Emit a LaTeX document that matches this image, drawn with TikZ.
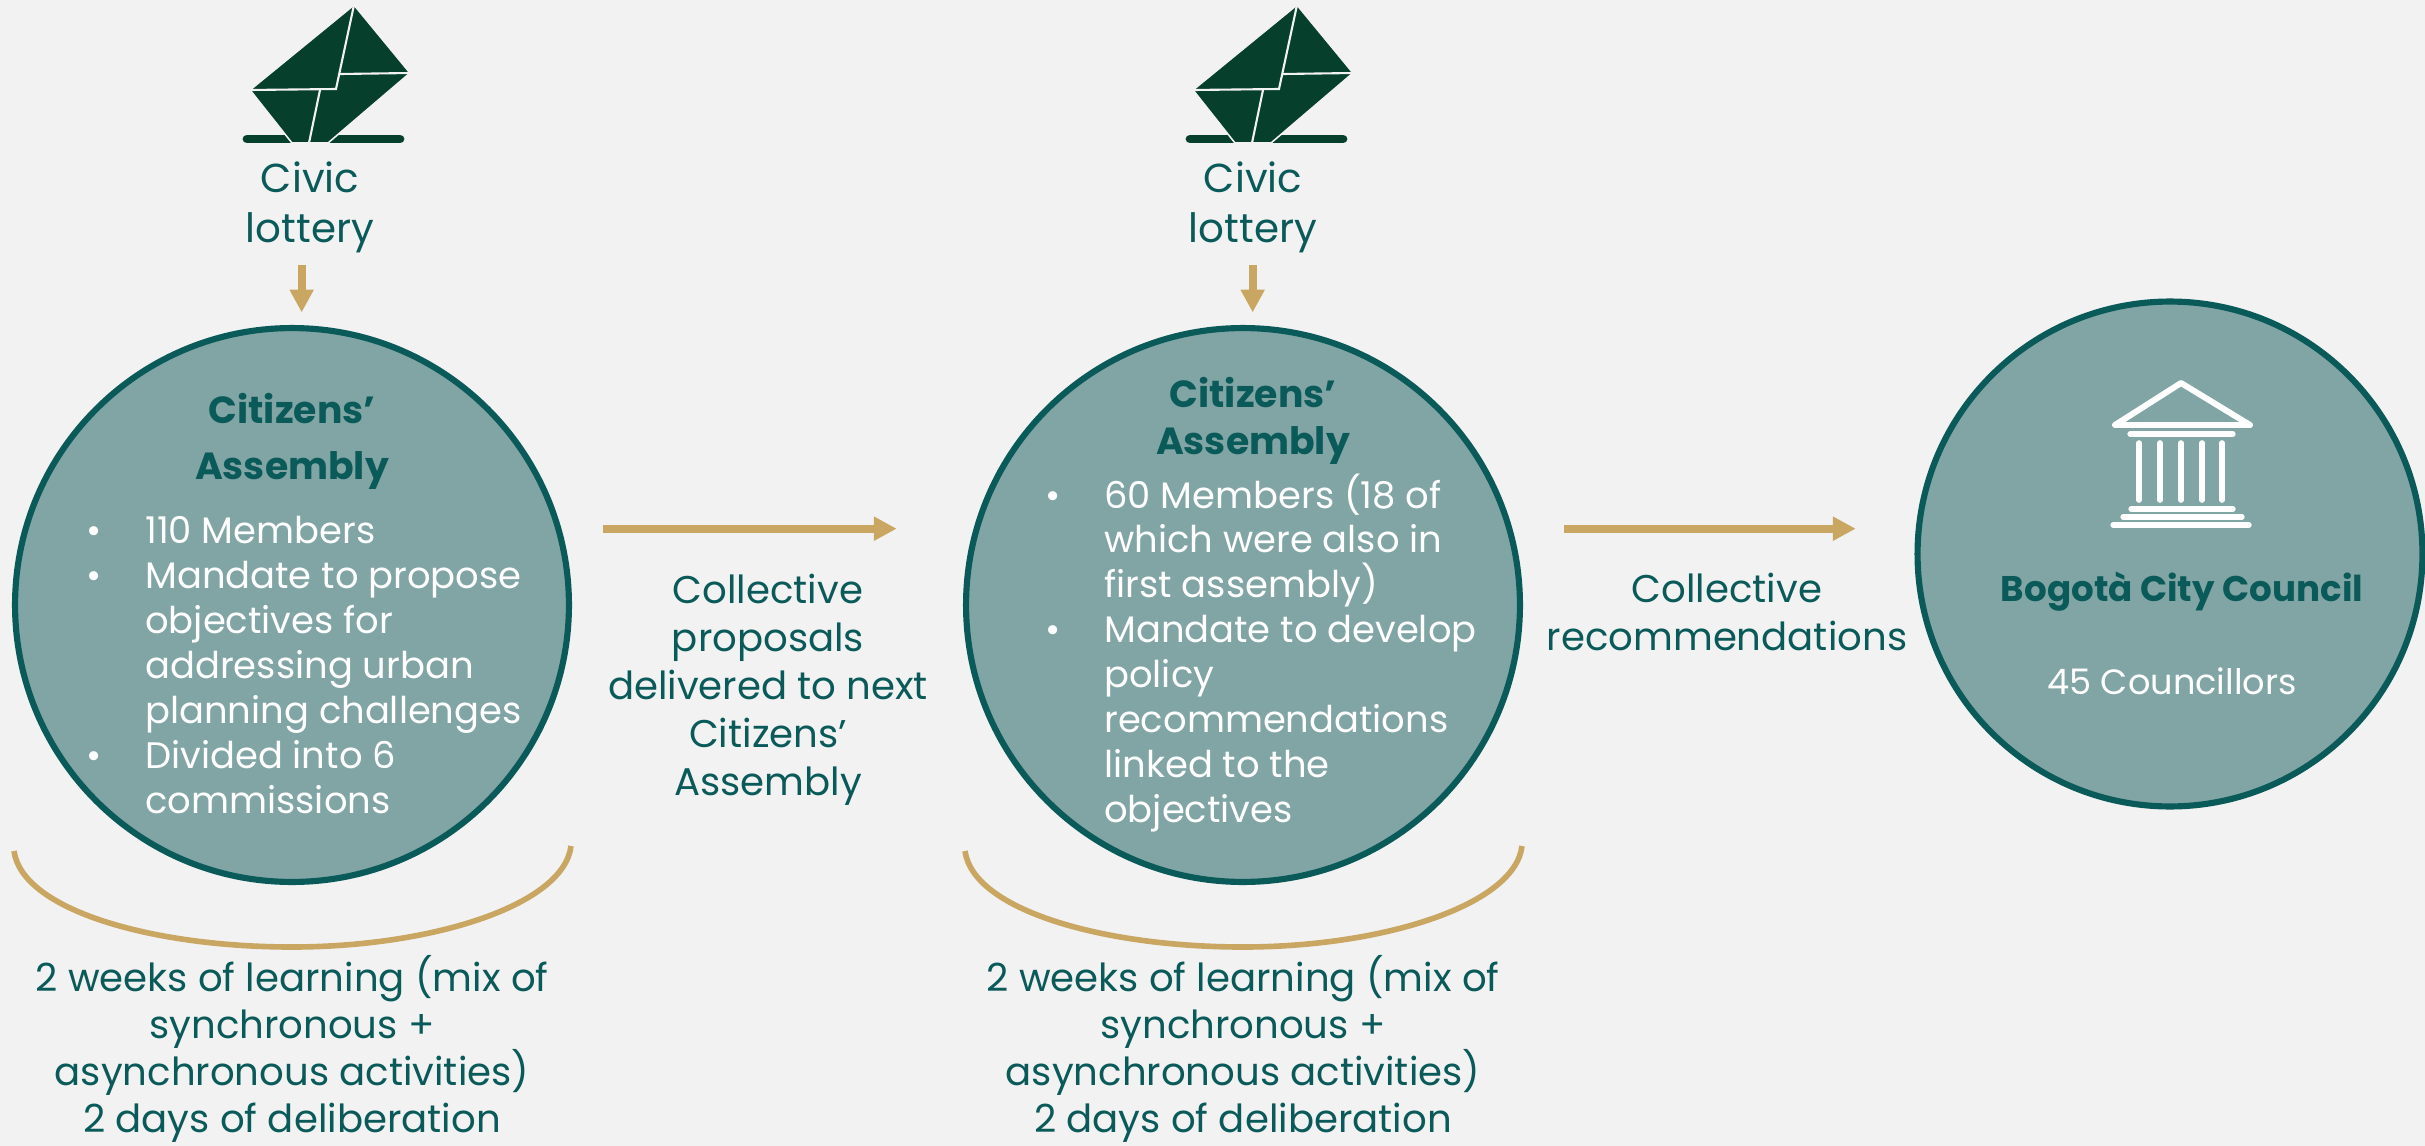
\documentclass[tikz,border=0pt]{standalone}
\usepackage{fontspec}
\setmainfont{Poppins}
\usetikzlibrary{arrows.meta}

\definecolor{pagegrey}{HTML}{F2F2F2}
\definecolor{tealdark}{HTML}{0B5A5A}
\definecolor{tealfill}{HTML}{81A5A5}
\definecolor{goldline}{HTML}{C9A762}
\definecolor{envgreen}{HTML}{063F2B}

\newcommand{\itemdot}{\llap{\textbullet\hspace{25pt}}}

\tikzset{
	bodytext/.style={font=\fontsize{22}{27.3}\selectfont,align=center,text=tealdark,inner sep=0},
	listtext/.style={font=\fontsize{21}{25.6}\selectfont,align=left,text=white,inner sep=0,anchor=west},
	headtext/.style={font=\fontsize{21.5}{#1}\selectfont\bfseries,align=center,text=tealdark,inner sep=0},
	bigcircle/.style={circle,draw=tealdark,fill=tealfill,line width=3.5pt,inner sep=0,outer sep=0},
	flowarrow/.style={draw=goldline,line width=4.4pt,-{Triangle[length=13pt,width=13pt]}},
	bracketline/.style={draw=goldline,line width=3.2pt},
	iconline/.style={draw=white,line width=3pt,line cap=round}
}

\begin{document}
\begin{tikzpicture}[x=0.02cm,y=-0.02cm]
	\fill[pagegrey] (0,0) rectangle (2425,1146);
	\useasboundingbox (0,0) rectangle (2425,1146);

	% circles
	\node[bigcircle,minimum size=11.08cm] (assembly1) at (292,605) {};
	\node[bigcircle,minimum size=11.08cm] (assembly2) at (1243,605) {};
	\node[bigcircle,minimum size=10.1cm] (council) at (2170,554) {};

	\begin{scope} % ballot icons
		\foreach \x/\n in {0/1,943/2}
			{
				\begin{scope}[xshift=\x*0.02cm]
					\draw[envgreen,line width=5pt,line cap=round] (247,139) -- (400,139);
					\filldraw[fill=envgreen,draw=pagegrey,line width=0.9pt] (354,5) -- (410,73) -- (328,143) -- (292,143) -- (250,90) -- cycle;
					\draw[pagegrey,line width=1.2pt] (354,5) -- (336,89) -- (250,90);
					\draw[pagegrey,line width=1.2pt] (340,74) -- (410,73);
					\draw[pagegrey,line width=1.2pt] (320,90) -- (309,143);
				\end{scope}
			}
	\end{scope}

	% lottery labels
	\node[bodytext,font=\fontsize{23}{28.5}\selectfont] (civic1) at (310,207) {Civic\\lottery};
	\node[bodytext,font=\fontsize{23}{28.5}\selectfont] (civic2) at (1253,207) {Civic\\lottery};

	% assembly texts
	\node[headtext=32] (head1) at (292,441.5) {Citizens’\\Assembly};
	\node[headtext=26.5] (head2) at (1253,421) {Citizens’\\Assembly};
	\node[listtext] (list1) at (145,665) {\itemdot 110 Members\\\itemdot Mandate to propose\\objectives for\\addressing urban\\planning challenges\\\itemdot Divided into 6\\commissions};
	\node[listtext] (list2) at (1104,653) {\itemdot 60 Members (18 of\\which were also in\\first assembly)\\\itemdot Mandate to develop\\policy\\recommendations\\linked to the\\objectives};

	% council
	\begin{scope}
		\draw[iconline,line join=round,line width=3.4pt] (2181,383) -- (2250,425) -- (2115,425) -- cycle;
		\draw[iconline] (2130,434) -- (2233,434);
		\foreach \x in {2139,2160,2181,2202,2222}
			{
				\draw[iconline,line width=3.2pt] (\x,443) -- (\x,500);
			}
		\draw[iconline] (2131,509) -- (2233,509);
		\draw[iconline] (2123,517) -- (2242,517);
		\draw[iconline] (2113,525) -- (2249,525);
	\end{scope}
	\node[headtext=26,font=\fontsize{20.3}{26}\selectfont\bfseries] (counciltitle) at (2182,592) {Bogotà City Council};
	\node[bodytext,text=white,font=\fontsize{20}{26}\selectfont] (councilcount) at (2172,681) {45 Councillors};

	% flow labels
	\node[bodytext] (proposals) at (768,690) {Collective\\proposals\\delivered to next\\Citizens’\\Assembly};
	\node[bodytext] (recommend) at (1727,612) {Collective\\recommendations};

	% arrows
	\draw[flowarrow,shorten <=25.6pt,shorten >=45.6pt] (assembly1.16.2) -- (assembly1.16.2 -| assembly2.164.2);
	\draw[flowarrow,shorten <=31.3pt,shorten >=36pt] (assembly2.16.2) -- (assembly2.16.2 -| council.174.6);
	\draw[flowarrow,shorten <=7pt,shorten >=9pt] (assembly1.88.4 |- civic1.south) -- (assembly1.88.4);
	\draw[flowarrow,shorten <=7pt,shorten >=9pt] (assembly2.88.1 |- civic2.south) -- (assembly2.88.1);

	% brackets
	\foreach \x/\n in {292/1,1243/2}
		{
			\draw[bracketline] (\x-278,851) .. controls (\x-270,910) and (\x-140,947) .. (\x,947) .. controls (\x+140,947) and (\x+272,905) .. (\x+279,846);
			\node[bodytext,font=\fontsize{22}{26.8}\selectfont] (learning\n) at (\x,1049) {2 weeks of learning (mix of\\synchronous +\\asynchronous activities)\\2 days of deliberation};
		}
\end{tikzpicture}
\end{document}
